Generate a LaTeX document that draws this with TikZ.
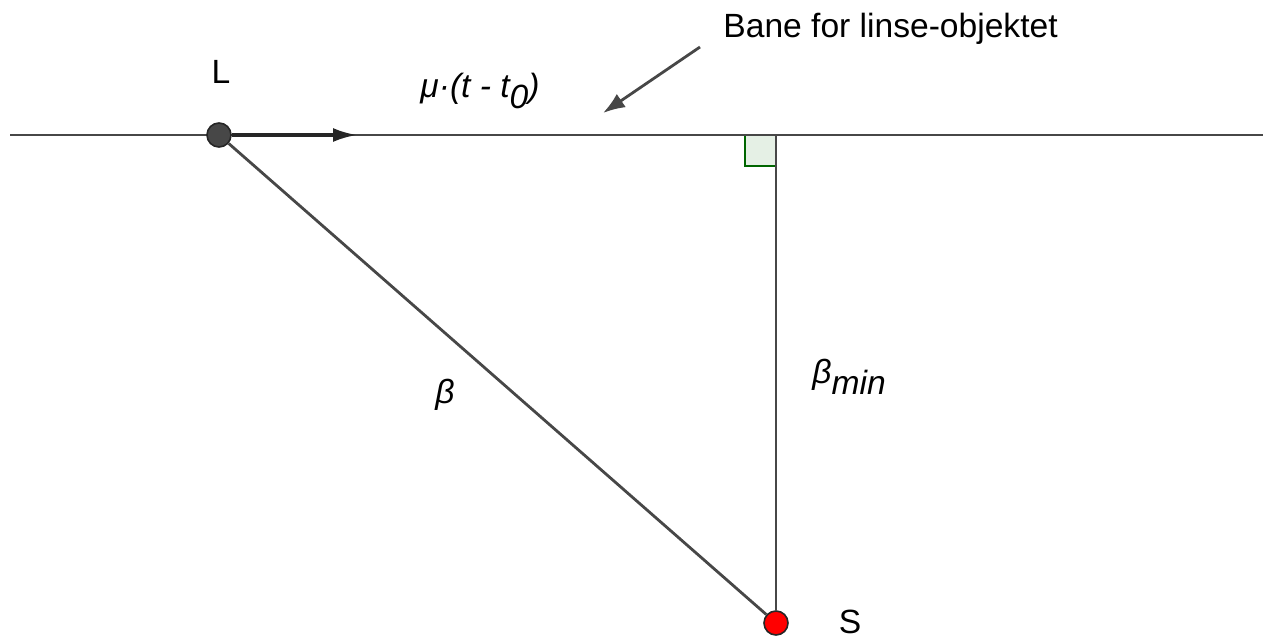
\documentclass[tikz,border=0pt]{standalone}
\usepackage{fontspec}
\setmainfont{Liberation Sans}
\usetikzlibrary{arrows.meta, positioning, calc}

\begin{document}
\begin{tikzpicture}[
    x=0.5pt, y=-0.5pt,
    font=\fontsize{16.8}{20}\selectfont,
    track/.style={draw=black!72, line width=1.4pt},
    pt/.style={circle, draw=black!85, line width=0.8pt, minimum size=12pt, inner sep=0pt},
    vel/.style={-{Latex[length=12pt, width=7pt]}, line width=1.6pt, black!85},
    pointer/.style={-{Latex[length=11pt, width=8pt]}, line width=1.4pt, black!72},
    rangle/.style={draw=green!40!black, fill=green!40!black!10, line width=1.1pt},
    lbl/.style={inner sep=0pt, anchor=base},
]
\useasboundingbox (0,0) rectangle (1263,637);

% --- Path of the lens ---
\coordinate (pathW) at (10,135);
\coordinate (pathE) at (1263,135);
\coordinate (foot) at (776,135);

% --- Right angle at the foot point ---
\draw[rangle] (foot) rectangle ++(-31,31);

\draw[track] (pathW) -- (pathE);

% --- Lens and source ---
\node[pt, fill=black!72] (L) at (219,135) {};
\node[pt, fill=red] (S) at (776,623) {};

\draw[track] (L) -- (S);
\draw[track] (foot) -- (S);

% --- Motion vector ---
\coordinate (vtip) at (357,135);
\draw[vel] (L) -- (vtip);

% --- Labels ---
\node[lbl] (Llab) at (221,83) {L};
\node[lbl] (Slab) at (850,633) {S};
\node[lbl, anchor=base west] (mu) at (420,97) {\itshape μ·(t - t\raisebox{-0.35em}{0})};
\node[lbl] (beta) at (445,403) {\itshape β};
\node[lbl, anchor=base west] (bmin) at (812,383) {\itshape β\raisebox{-0.35em}{min}};

% --- Annotation ---
\node[lbl, anchor=base west] (bane) at (723,37) {Bane for linse-objektet};
\coordinate (ntail) at (700,47);
\coordinate (nhead) at (603,113);
\draw[pointer] (ntail) -- (nhead);

\end{tikzpicture}
\end{document}
